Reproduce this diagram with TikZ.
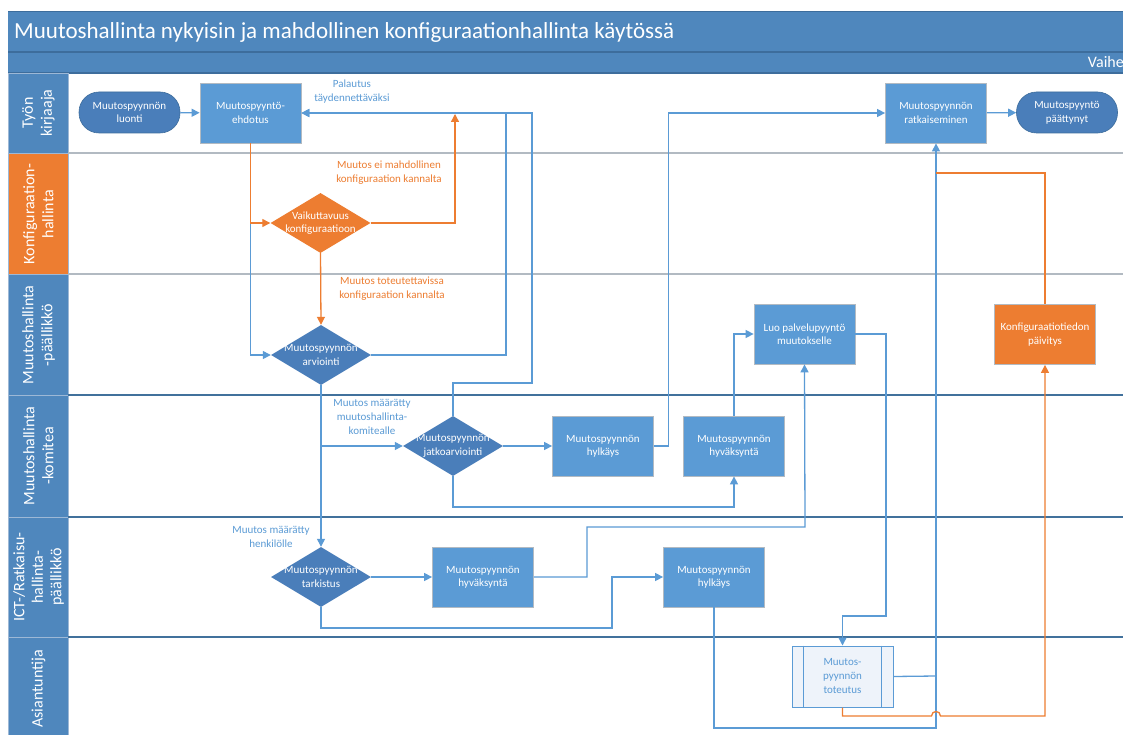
\documentclass[tikz,border=0pt]{standalone}
\usepackage{fontspec}
\setmainfont{Carlito}
\usetikzlibrary{arrows.meta,shapes.geometric,calc}
\definecolor{band}{HTML}{4F87BD}
\definecolor{bandline}{HTML}{3D6D9C}
\definecolor{boxblue}{HTML}{5B9BD5}
\definecolor{darkblue}{HTML}{4A7EBA}
\definecolor{orng}{HTML}{ED7D31}
\definecolor{grayline}{HTML}{B2BAC2}
\definecolor{laneline}{HTML}{41719C}
\definecolor{cellline}{HTML}{9DB8D6}
\definecolor{implfill}{HTML}{EEF3FA}

\begin{document}
\begin{tikzpicture}[x=1pt,y=-1pt,
  every node/.style={font=\fontsize{11}{13.5}\selectfont, align=center},
  procbox/.style={rectangle, fill=boxblue, draw=grayline, line width=0.8pt,
    minimum width=101pt, minimum height=60pt, text=white, inner sep=1pt},
  termbox/.style={rectangle, rounded corners=20pt, fill=darkblue, draw=bandline,
    line width=0.6pt, minimum width=101pt, minimum height=41pt, text=white, inner sep=1pt},
  decision/.style={diamond, fill=darkblue, minimum width=100pt, minimum height=60pt,
    inner sep=0pt},
  dtext/.style={text=white, inner sep=0pt, align=center, font=\fontsize{11}{13.5}\selectfont},
  implbox/.style={rectangle, fill=implfill, draw=boxblue, line width=1pt,
    minimum width=101pt, minimum height=61pt, text=boxblue, inner sep=1pt,
    font=\fontsize{11}{14}\selectfont},
  lanetext/.style={rotate=90, text=white, font=\fontsize{16}{19}\selectfont, align=center},
  flow/.style={draw=boxblue, line width=1.3pt, -{Triangle[length=8pt,width=8pt]}},
  link/.style={draw=boxblue, line width=1.3pt},
  oflow/.style={draw=orng, line width=1.3pt, -{Triangle[length=8pt,width=8pt]}},
  olink/.style={draw=orng, line width=1.3pt},
  lbl/.style={text=boxblue, fill=white, inner sep=1pt, font=\fontsize{11}{14}\selectfont},
  olbl/.style={text=orng, fill=white, inner sep=1pt, font=\fontsize{11}{14}\selectfont},
  laneborder/.style={line width=1.2pt},
]
\useasboundingbox (0,0) rectangle (1123,735);
\clip (0,0) rectangle (1123,735);
\fill[white] (0,0) rectangle (1123,735);

% title and phase bands
\fill[band] (8,12) rectangle (1130,73);
\draw[bandline, line width=1.2pt] (8,52) -- (1130,52);
\draw[bandline, line width=1.2pt] (8,73) -- (1130,73);
\draw[bandline, line width=1pt] (8,12) -- (1130,12);
\node[anchor=west, text=white, font=\fontsize{23}{27}\selectfont, inner sep=0pt] (title) at (14,32)
  {Muutoshallinta nykyisin ja mahdollinen konfiguraationhallinta käytössä};
\node[anchor=east, text=white, font=\fontsize{16}{19}\selectfont, inner sep=0pt] (phase) at (1124,62) {Vaihe};

% lane label cells
\filldraw[fill=band, draw=cellline, line width=0.8pt] (8,73) rectangle (68,153);
\filldraw[fill=orng, draw=cellline, line width=0.8pt] (8,153) rectangle (68,274);
\filldraw[fill=band, draw=cellline, line width=0.8pt] (8,274) rectangle (68,395);
\filldraw[fill=band, draw=cellline, line width=0.8pt] (8,395) rectangle (68,517);
\filldraw[fill=band, draw=cellline, line width=0.8pt] (8,517) rectangle (68,637);
\filldraw[fill=band, draw=cellline, line width=0.8pt] (8,637) rectangle (68,745);

\node[lanetext] (lane1) at (38.5,113) {Työn\\kirjaaja};
\node[lanetext] (lane2) at (38.5,214) {Konfiguraation-\\hallinta};
\node[lanetext] (lane3) at (38.5,335) {Muutoshallinta\\-päällikkö};
\node[lanetext] (lane4) at (38.5,456) {Muutoshallinta\\-komitea};
\node[lanetext, font=\fontsize{16}{18.5}\selectfont] (lane5) at (38.5,577) {ICT-/Ratkaisu-\\hallinta-\\päällikkö};
\node[lanetext] (lane6) at (38.5,689) {Asiantuntija};

% lane separators
\draw[grayline, laneborder] (68,153) -- (1130,153);
\draw[grayline, laneborder] (68,274) -- (1130,274);
\draw[laneline, laneborder] (68,395) -- (1130,395);
\draw[laneline, laneborder] (68,517) -- (1130,517);
\draw[laneline, laneborder] (68,637) -- (1130,637);

% process steps
\node[termbox] (start) at (129.5,112.5) {Muutospyynnön\\luonti};
\node[procbox] (prop) at (250.5,113) {Muutospyyntö-\\ehdotus};
\node[procbox] (solve) at (936,113) {Muutospyynnön\\ratkaiseminen};
\node[termbox] (finish) at (1067,112.5) {Muutospyyntö\\päättynyt};
\node[decision, fill=orng, label={[dtext]center:Vaikuttavuus\\konfiguraatioon}] (impact) at (320.5,223) {};
\node[decision, label={[dtext]center:Muutospyynnön\\arviointi}] (assess) at (321,355) {};
\node[decision, label={[dtext]center:Muutospyynnön\\jatkoarviointi}] (reassess) at (453,446) {};
\node[procbox] (rejcom) at (603,446) {Muutospyynnön\\hylkäys};
\node[procbox] (appcom) at (734,446) {Muutospyynnön\\hyväksyntä};
\node[procbox] (svcreq) at (804.5,334) {Luo palvelupyyntö\\muutokselle};
\node[procbox, fill=orng] (cmdb) at (1045,334.5) {Konfiguraatiotiedon\\päivitys};
\node[decision, label={[dtext]center:Muutospyynnön\\tarkistus}] (check) at (321,577) {};
\node[procbox] (appict) at (483,577) {Muutospyynnön\\hyväksyntä};
\node[procbox] (rejict) at (714,577) {Muutospyynnön\\hylkäys};
\node[implbox] (impl) at (842.5,676.5) {Muutos-\\pyynnön\\toteutus};
\draw[boxblue, line width=0.8pt] ($(impl.north west)+(12,0)$) -- ($(impl.south west)+(12,0)$);
\draw[boxblue, line width=0.8pt] ($(impl.north east)+(-12,0)$) -- ($(impl.south east)+(-12,0)$);

% connector bend points
\coordinate (ret1) at (506,113);
\coordinate (ret2a) at (532,383);
\coordinate (ret2b) at (532,113);
\coordinate (cfgback) at (455,114);
\coordinate (split) at (321,446);
\coordinate (under) at (734,507);

% connectors
\draw[flow] (start) -- (prop);
\draw[flow] (solve) -- (finish);
\draw[flow] (prop.south) |- (assess.west);
\draw[oflow] (prop.south) |- (impact.west);
\draw[oflow] (impact.east) -| (cfgback);
\draw[oflow] (impact.south) -- (assess.north);
\draw[flow] (assess.east) -| (ret1) -- (prop.east);
\draw[flow] (reassess.north) |- (ret2a) -- (ret2b) -- (prop.east);
\draw[flow] (assess.south) -- (check.north);
\draw[flow] (split) -- (reassess.west);
\draw[flow] (reassess.east) -- (rejcom.west);
\draw[flow] (reassess.south) |- (under) -- (appcom.south);
\draw[flow] (rejcom.east) -- ++(14.5,0) |- (solve.west);
\draw[flow] (appcom.north) |- (svcreq.west);
\draw[flow] (check.east) -- (appict.west);
\draw[flow] (check.south) |- (612,628) -- (612,577) -- (rejict.west);
\draw[flow] (appict.east) -- (587,577) -- (587,527) -- (805,527) -- (svcreq.south);
\draw[flow] (svcreq.east) -- (886,334) -- (886,616) -- (842.5,616) -- (impl.north);
\draw[link] (impl.east) -- (936,676);
\draw[flow] (rejict.south) -- (714,728) -- (936,728) -- (solve.south);
\draw[oflow] (impl.south) -- (842.5,716) -- (931.5,716)
  .. controls (931.5,710) and (940.5,710) .. (940.5,716) -- (1045,716) -- (cmdb.south);
\draw[olink] (cmdb.north) -- (1045,173) -- (936,173);

% connector labels
\node[lbl] (lblback) at (352,92) {Palautus\\täydennettäväksi};
\node[olbl] (lblno) at (389,173) {Muutos ei mahdollinen\\konfiguraation kannalta};
\node[olbl] (lblyes) at (392,289) {Muutos toteutettavissa\\konfiguraation kannalta};
\node[lbl] (lblcom) at (372,417) {Muutos määrätty\\muutoshallinta-\\komitealle};
\node[lbl] (lblperson) at (271,537) {Muutos määrätty\\henkilölle};
\end{tikzpicture}
\end{document}
